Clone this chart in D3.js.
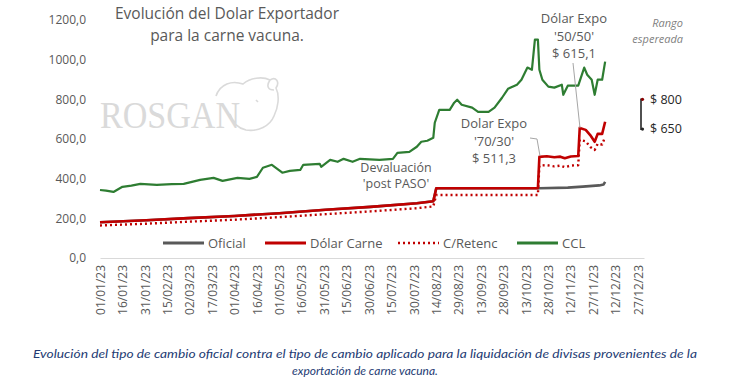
<!DOCTYPE html>
<html>
<head>
<meta charset="utf-8">
<script src="https://d3js.org/d3.v7.min.js"></script>
<style>
  body { margin: 0; background: #fff; }
  text { font-family: "Open Sans", sans-serif; }
</style>
</head>
<body>
<div id="chart"></div>
<script>
// ---- data ----
const tickLabels = ["01/01/23","16/01/23","31/01/23","15/02/23","02/03/23","17/03/23","01/04/23","16/04/23",
  "01/05/23","16/05/23","31/05/23","15/06/23","30/06/23","15/07/23","30/07/23","14/08/23","29/08/23",
  "13/09/23","28/09/23","13/10/23","28/10/23","12/11/23","27/11/23","12/12/23","27/12/23"];
const yTicks = [0, 200, 400, 600, 800, 1000, 1200];

const seriesNames = ["Oficial", "Dólar Carne", "C/Retenc", "CCL"];

const oficialDates = ["2023-01-01","2023-02-01","2023-03-01","2023-04-01","2023-05-01","2023-06-01","2023-07-01",
  "2023-08-01","2023-08-12","2023-08-14","2023-10-21","2023-10-22","2023-11-10","2023-11-20","2023-12-01","2023-12-04","2023-12-05"];
const oficialValues = [180, 190, 201, 212, 226, 243, 258, 276, 286, 352, 352, 352, 355, 360, 366, 371, 384];

const carneDates = ["2023-01-01","2023-02-01","2023-03-01","2023-04-01","2023-05-01","2023-06-01","2023-07-01",
  "2023-08-01","2023-08-12","2023-08-14","2023-10-21","2023-10-22","2023-10-27","2023-11-01","2023-11-05",
  "2023-11-08","2023-11-12","2023-11-17","2023-11-18","2023-11-22","2023-11-25","2023-11-28","2023-11-30",
  "2023-12-03","2023-12-05"];
const carneValues = [180, 190, 201, 212, 226, 243, 258, 276, 286, 352, 352, 510, 513, 508, 511, 503, 512, 514,
  656, 646, 620, 586, 626, 626, 687];

const retencDates = carneDates;
const retencValues = [164, 173, 183, 193, 206, 221, 235, 251, 260, 318, 318, 466, 468, 462, 466, 458, 466, 468,
  596, 588, 560, 545, 576, 572, 611];

const cclDates = ["2023-01-01","2023-01-05","2023-01-10","2023-01-16","2023-01-22","2023-01-28","2023-02-08",
  "2023-02-18","2023-02-26","2023-03-09","2023-03-18","2023-03-24","2023-04-03","2023-04-11","2023-04-16",
  "2023-04-20","2023-04-26","2023-05-03","2023-05-08","2023-05-15","2023-05-17","2023-05-28","2023-05-29",
  "2023-06-04","2023-06-09","2023-06-13","2023-06-19","2023-06-24","2023-07-07","2023-07-16","2023-07-19",
  "2023-07-27","2023-08-01","2023-08-04","2023-08-08","2023-08-12","2023-08-13","2023-08-16","2023-08-23",
  "2023-08-26","2023-08-28","2023-08-31","2023-09-07","2023-09-11","2023-09-18","2023-09-22","2023-09-27",
  "2023-10-01","2023-10-07","2023-10-10","2023-10-14","2023-10-17","2023-10-19","2023-10-21","2023-10-22",
  "2023-10-24","2023-10-28","2023-11-01","2023-11-06","2023-11-07","2023-11-10","2023-11-17","2023-11-21",
  "2023-11-23","2023-11-26","2023-11-28","2023-11-30","2023-12-03","2023-12-05"];
const cclValues = [343, 340, 333, 359, 365, 374, 369, 372, 374, 394, 404, 389, 404, 399, 409,
  455, 470, 430, 439, 444, 470, 475, 460, 495, 485, 500, 485, 500, 495, 500, 530,
  535, 561, 586, 591, 606, 682, 747, 747, 783, 798, 773, 758, 737, 737, 758, 808,
  853, 874, 899, 960, 949, 1101, 1101, 949, 899, 864, 859, 874, 823, 869, 869, 960,
  924, 899, 823, 899, 899, 990];

const rangeValues = [650, 800];
const rangeLabels = ["$ 650", "$ 800"];

// ---- setup ----
const width = 730, height = 391;
const parseISO = d3.timeParse("%Y-%m-%d");
const parseTick = d3.timeParse("%d/%m/%y");

const svg = d3.select("#chart").append("svg")
  .attr("width", width)
  .attr("height", height);

const x = d3.scaleTime()
  .domain([new Date(2023, 0, 1), new Date(2023, 11, 31)])
  .range([100, 644]);
const y = d3.scaleLinear()
  .domain([0, 1200])
  .range([258, 20]);

const esFormat = d3.formatLocale({ decimal: ",", thousands: ".", grouping: [3], currency: ["$", ""] }).format(".1f");

// watermark
const wm = svg.append("g").attr("opacity", 0.9);
wm.append("text")
  .attr("x", 100).attr("y", 128)
  .attr("textLength", 140).attr("lengthAdjust", "spacingAndGlyphs")
  .style("font-family", "'Liberation Serif', serif")
  .style("font-size", "38px")
  .attr("fill", "#d6d6d6")
  .text("ROSGAN");
wm.append("path")
  .attr("d", "M216,96 C220,84 232,80 243,84 C250,78 262,76 270,80 C276,76 280,82 276,88 C280,96 278,108 274,116 C270,126 258,132 246,130 C238,128 232,122 230,114 M270,80 C266,86 268,90 274,90 M256,100 l2,2")
  .attr("fill", "none")
  .attr("stroke", "#d6d6d6")
  .attr("stroke-width", 1.6);

// title
svg.append("text")
  .attr("x", 227).attr("y", 19)
  .attr("text-anchor", "middle")
  .style("font-size", "15.5px")
  .attr("fill", "#595959")
  .text("Evolución del Dolar Exportador");
svg.append("text")
  .attr("x", 227).attr("y", 41)
  .attr("text-anchor", "middle")
  .style("font-size", "15.5px")
  .attr("fill", "#595959")
  .text("para la carne vacuna.");

// y axis (labels only)
svg.append("g")
  .attr("transform", "translate(86,0)")
  .call(d3.axisLeft(y).tickValues(yTicks).tickFormat(esFormat).tickSize(0).tickPadding(0))
  .call(g => g.select(".domain").remove())
  .call(g => g.selectAll("text")
    .style("font-family", "'Open Sans', sans-serif")
    .style("font-size", "12px")
    .attr("fill", "#595959"));

// x axis
const xAxis = svg.append("g")
  .attr("transform", "translate(0,258)")
  .call(d3.axisBottom(x).tickValues(tickLabels.map(parseTick)).tickFormat(d3.timeFormat("%d/%m/%y")).tickSize(0));
xAxis.select(".domain").attr("stroke", "#d9d9d9").attr("stroke-width", 1);
xAxis.selectAll("text")
  .style("font-family", "'Open Sans', sans-serif")
  .style("font-size", "12px")
  .attr("fill", "#595959")
  .attr("text-anchor", "end")
  .attr("transform", "rotate(-90)")
  .attr("x", -7)
  .attr("y", 0)
  .attr("dy", "0.35em");

// lines
const line = d3.line()
  .x(d => x(d[0]))
  .y(d => y(d[1]));
const zip = (dates, vals) => dates.map((d, i) => [parseISO(d), vals[i]]);

const series = [
  { name: seriesNames[0], data: zip(oficialDates, oficialValues), color: "#595959", width: 2.6, dash: null },
  { name: seriesNames[1], data: zip(carneDates, carneValues), color: "#c00000", width: 2.6, dash: null },
  { name: seriesNames[2], data: zip(retencDates, retencValues), color: "#c00000", width: 2.4, dash: "2,3" },
  { name: seriesNames[3], data: zip(cclDates, cclValues), color: "#2e7d32", width: 2.2, dash: null }
];

series.forEach(s => {
  svg.append("path")
    .datum(s.data)
    .attr("fill", "none")
    .attr("stroke", s.color)
    .attr("stroke-width", s.width)
    .attr("stroke-dasharray", s.dash)
    .attr("stroke-linejoin", "round")
    .attr("d", line);
});

// legend
const legendX = [163, 265, 398, 517];
const legend = svg.append("g").selectAll("g")
  .data(series)
  .join("g")
  .attr("transform", (d, i) => `translate(${legendX[i]},243)`);
legend.append("line")
  .attr("x1", 0).attr("x2", 41)
  .attr("stroke", d => d.color)
  .attr("stroke-width", d => d.dash ? 2.4 : 3)
  .attr("stroke-dasharray", d => d.dash);
legend.append("text")
  .attr("x", 45).attr("dy", "0.35em")
  .style("font-size", "13px")
  .attr("fill", "#595959")
  .text(d => d.name);

// annotations: one text element per line
function block(lines, cx, y0, lh, size) {
  lines.forEach((l, i) => svg.append("text")
    .attr("text-anchor", "middle")
    .attr("x", cx).attr("y", y0 + i * lh)
    .style("font-size", size + "px")
    .attr("fill", "#595959")
    .text(l));
}
block(["Devaluación", "'post PASO'"], 396, 172, 15.5, 12.5);
block(["Dolar Expo", "'70/30'", "$ 511,3"], 494, 128, 17.5, 13);
block(["Dólar Expo", "'50/50'", "$ 615,1"], 574, 23, 17.5, 13);

// leader lines
svg.append("path")
  .attr("d", "M530,138 L537,139 L540,156")
  .attr("fill", "none").attr("stroke", "#a6a6a6").attr("stroke-width", 1);
svg.append("path")
  .attr("d", "M573,63 L580,128")
  .attr("fill", "none").attr("stroke", "#a6a6a6").attr("stroke-width", 1);

// expected range
svg.append("text")
  .attr("text-anchor", "end")
  .attr("x", 683).attr("y", 27)
  .style("font-size", "11px").style("font-style", "italic")
  .attr("fill", "#7f7f7f")
  .text("Rango");
svg.append("text")
  .attr("text-anchor", "end")
  .attr("x", 683).attr("y", 43)
  .style("font-size", "11px").style("font-style", "italic")
  .attr("fill", "#7f7f7f")
  .text("espereada");
const rx = 641;
svg.append("path")
  .attr("d", `M${rx + 2},${y(rangeValues[1])} H${rx} V${y(rangeValues[0])} H${rx + 2}`)
  .attr("fill", "none").attr("stroke", "#262626").attr("stroke-width", 1.6);
svg.selectAll(".rdot")
  .data(rangeValues)
  .join("circle")
  .attr("class", "rdot")
  .attr("cx", rx + 1.5).attr("cy", d => y(d)).attr("r", 1.6)
  .attr("fill", (d, i) => i ? "#8b0000" : "#262626");
svg.selectAll(".rlab")
  .data(rangeValues)
  .join("text")
  .attr("class", "rlab")
  .attr("x", 650)
  .attr("y", d => y(d))
  .attr("dy", "0.35em")
  .style("font-size", "12.5px")
  .attr("fill", "#262626")
  .text((d, i) => rangeLabels[i]);

// caption
svg.append("text")
  .attr("text-anchor", "middle")
  .attr("x", 365).attr("y", 358)
  .attr("textLength", 664).attr("lengthAdjust", "spacingAndGlyphs")
  .style("font-family", "Lato, sans-serif")
  .style("font-size", "12px")
  .style("font-style", "italic")
  .attr("fill", "#243b73")
  .text("Evolución del tipo de cambio oficial contra el tipo de cambio aplicado para la liquidación de divisas provenientes de la");
svg.append("text")
  .attr("text-anchor", "middle")
  .attr("x", 365).attr("y", 375)
  .style("font-family", "Lato, sans-serif")
  .style("font-size", "12px")
  .style("font-style", "italic")
  .attr("fill", "#243b73")
  .text("exportación de carne vacuna.");
</script>
</body>
</html>
